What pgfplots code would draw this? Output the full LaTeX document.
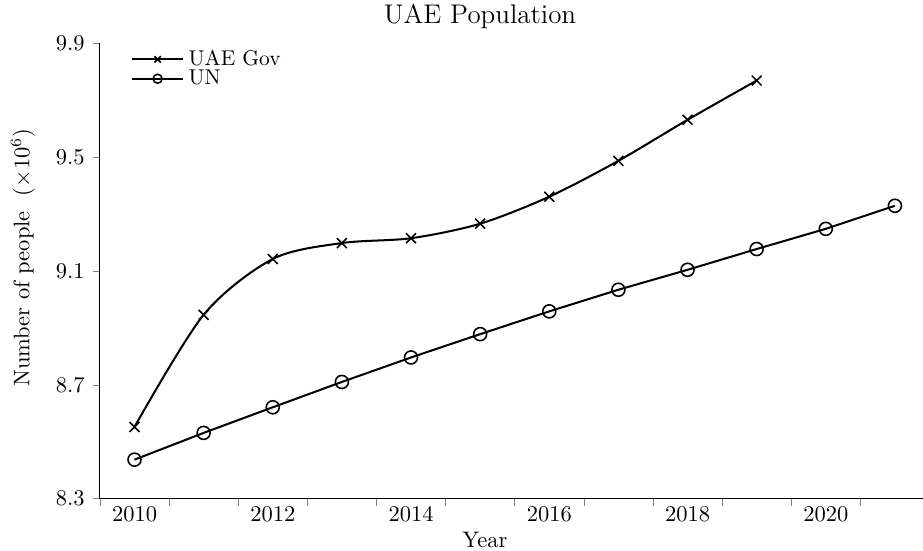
\documentclass[border=0pt]{standalone}
\usepackage{pgfplots}
\pgfplotsset{compat=1.18}
\begin{document}
\begin{tikzpicture}
\begin{axis}[
  scale only axis, width=365.8pt, height=202.5pt,
  xmin=2009.5, xmax=2021.4, ymin=8.3, ymax=9.9,
  axis x line*=bottom, axis y line*=left,
  clip=false,
  tick align=outside,
  major tick length=3.3pt,
  xtick={2009.5,2010.5,...,2020.5}, xticklabels={},
  extra x ticks={2010,2012,2014,2016,2018,2020},
  extra x tick labels={2010,2012,2014,2016,2018,2020},
  extra x tick style={major tick length=0pt},
  ytick={8.3,8.7,9.1,9.5,9.9},
  yticklabel style={/pgf/number format/.cd, fixed, fixed zerofill, precision=1},
  xlabel={Year},
  xlabel style={at={(rel axis cs:0.468,-0.09)}, anchor=center, inner sep=0pt},
  ylabel={Number of people\ \ ($\times10^6$)},
  ylabel style={at={(rel axis cs:-0.0936,0.529)}, anchor=center, inner sep=0pt},
  title={UAE Population},
  every axis title shift=0pt,
  title style={at={(rel axis cs:0.462,1.058)}, anchor=center, yshift=0pt, inner sep=0pt, font=\large},
  legend style={at={(rel axis cs:0.029,1.006)}, anchor=north west, draw=none, fill=none,
    font=\fontsize{9.5}{11}\selectfont, row sep=-3.5pt},
  legend cell align=left,
  legend image code/.code={\draw[#1, mark size=2pt, mark repeat=2, mark phase=2] plot coordinates {(0cm,0cm)(0.4cm,0cm)(0.8cm,0cm)};},
]
\path (rel axis cs:-0.1215,-0.1141) rectangle (rel axis cs:1,1.095);
\addplot[black, line width=0.9pt, smooth, mark=x, mark size=3.1pt, mark options={line width=0.7pt}]
  coordinates {
  (2010,8.552) (2011,8.946) (2012,9.142) (2013,9.198) (2014,9.215)
  (2015,9.266) (2016,9.361) (2017,9.487) (2018,9.631) (2019,9.769)
  };
\addlegendentry{UAE Gov}
\addplot[black, line width=0.9pt, mark=o, mark size=2.9pt, mark options={line width=0.7pt}]
  coordinates {
  (2010,8.437) (2011,8.531) (2012,8.621) (2013,8.710) (2014,8.796)
  (2015,8.878) (2016,8.958) (2017,9.034) (2018,9.104) (2019,9.177)
  (2020,9.248) (2021,9.329)
  };
\addlegendentry{UN}
\end{axis}
\end{tikzpicture}
\end{document}
